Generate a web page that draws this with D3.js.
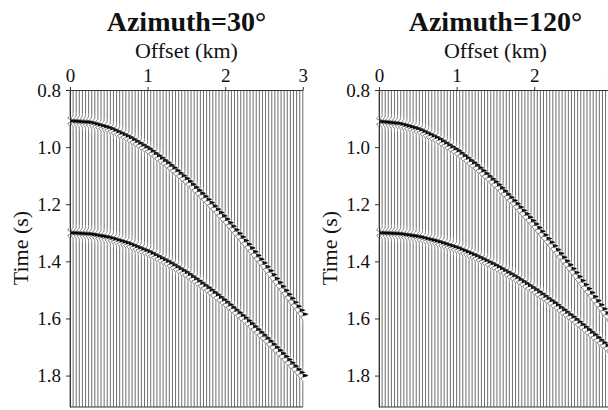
<!DOCTYPE html>
<html><head><meta charset="utf-8">
<script src="https://cdn.jsdelivr.net/npm/d3@7"></script>
<style>
body{margin:0;background:#fff}
svg{display:block}
text{font-family:"Liberation Serif","Times New Roman",Times,serif;fill:#111}
</style>
</head><body>
<script>
// ---------- data ----------
const titles = ["Azimuth=30\u00B0", "Azimuth=120\u00B0"];
const xTickValues = [0, 1, 2, 3];
const yTickValues = [0.8, 1.0, 1.2, 1.4, 1.6, 1.8];
const traceOffsets = d3.range(76).map(i => i * 0.04);           // km, one trace every 40 m
const pickOffsets = [0, 0.25, 0.5, 0.75, 1.0, 1.25, 1.5, 1.75, 2.0, 2.25, 2.5, 2.75, 3.0];
const az30Event1  = [0.908, 0.913, 0.932, 0.964, 1.005, 1.056, 1.114, 1.180, 1.252, 1.330, 1.412, 1.498, 1.585];
const az30Event2  = [1.300, 1.304, 1.316, 1.337, 1.365, 1.400, 1.441, 1.489, 1.542, 1.600, 1.663, 1.730, 1.800];
const az120Event1 = [0.910, 0.917, 0.936, 0.969, 1.012, 1.065, 1.126, 1.195, 1.269, 1.349, 1.432, 1.520, 1.609];
const az120Event2 = [1.300, 1.303, 1.313, 1.330, 1.352, 1.381, 1.415, 1.454, 1.498, 1.546, 1.598, 1.654, 1.713];
const panelEvents = [[az30Event1, az30Event2], [az120Event1, az120Event2]];

// ---------- layout ----------
const W = 608, H = 410;
const panelLeft = [70, 379];
const kmPx = 77.6;
const plotTop = 90, plotBottom = 407;
const tMin = 0.8, tMax = 1.91;
const freq = 40;     // Hz, Ricker wavelet
const amp = 5;       // px peak deflection

const svg = d3.select("body").append("svg").attr("width", W).attr("height", H);

const ricker = tau => {
  const a = Math.PI * Math.PI * freq * freq * tau * tau;
  return (1 - 2 * a) * Math.exp(-a);
};
const halfWin = 0.03;
const tauSamples = d3.range(-halfWin, halfWin + 1e-9, 0.001);
const z0 = 1 / (Math.PI * freq * Math.SQRT2);
const lobeSamples = d3.range(-z0, z0 + 1e-9, z0 / 10);

panelLeft.forEach((x0, p) => {
  const xs = d3.scaleLinear().domain([0, 3]).range([x0, x0 + 3 * kmPx]);
  const ys = d3.scaleLinear().domain([tMin, tMax]).range([plotTop, plotBottom]);
  const g = svg.append("g");
  const evScales = panelEvents[p].map(ev => d3.scaleLinear().domain(pickOffsets).range(ev));

  const line = d3.line().x(d => d[0]).y(d => d[1]);
  const area = d3.area().y(d => d[1]).x0(d => d[2]).x1(d => d[0]);

  traceOffsets.forEach(off => {
    const bx = xs(off);
    const times = evScales.map(s => s(off)).sort((a, b) => a - b);
    const pts = [[bx, ys(tMin)]];
    times.forEach(te => {
      tauSamples.forEach(tau => pts.push([bx + amp * ricker(tau), ys(te + tau)]));
    });
    pts.push([bx, ys(tMax)]);
    g.append("path").attr("d", line(pts))
      .attr("fill", "none").attr("stroke", "#4a4a4a").attr("stroke-width", 0.8);
    times.forEach(te => {
      const lobe = lobeSamples.map(tau => [bx + amp * Math.max(0, ricker(tau)), ys(te + tau), bx]);
      g.append("path").attr("d", area(lobe)).attr("fill", "#000");
    });
  });

  // axes
  const xAxis = d3.axisTop(xs).tickValues(xTickValues).tickFormat(d3.format("d"))
    .tickSizeInner(3).tickSizeOuter(0).tickPadding(5);
  const gx = svg.append("g").attr("transform", `translate(0,${plotTop})`).call(xAxis);
  gx.attr("font-family", null);
  gx.selectAll("text").attr("font-size", 19);
  gx.selectAll("line,path").attr("stroke", "#333");

  const yAxis = d3.axisLeft(ys).tickValues(yTickValues).tickFormat(d3.format(".1f"))
    .tickSizeInner(4).tickSizeOuter(0).tickPadding(5);
  const gy = svg.append("g").attr("transform", `translate(${x0},0)`).call(yAxis);
  gy.attr("font-family", null);
  gy.selectAll("text").attr("font-size", 19);
  gy.selectAll("line,path").attr("stroke", "#333");

  svg.append("line").attr("x1", xs(0)).attr("x2", xs(3)).attr("y1", plotBottom).attr("y2", plotBottom)
    .attr("stroke", "#333").attr("stroke-width", 1);

  const cx = (xs(0) + xs(3)) / 2;
  svg.append("text").attr("x", cx).attr("y", 31).attr("text-anchor", "middle")
    .attr("font-size", 28).attr("font-weight", "bold").text(titles[p]);
  svg.append("text").attr("x", cx).attr("y", 58).attr("text-anchor", "middle")
    .attr("font-size", 22).text("Offset (km)");
  svg.append("text").attr("transform", `translate(${x0 - 42},248) rotate(-90)`)
    .attr("text-anchor", "middle").attr("font-size", 22).text("Time (s)");
});
</script>
</body></html>
